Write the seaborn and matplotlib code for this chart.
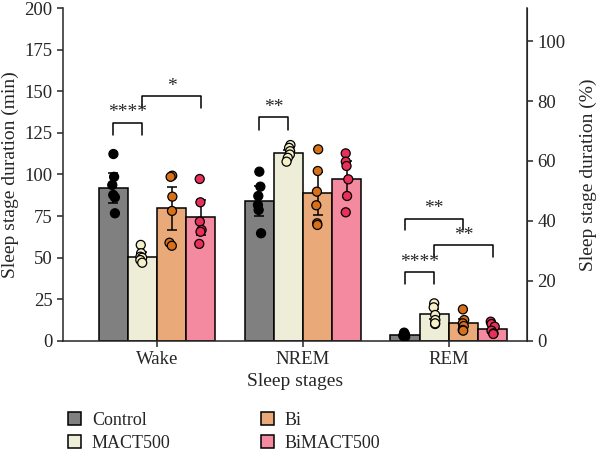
import numpy as np
import pandas as pd
import matplotlib
matplotlib.use("Agg")
import matplotlib.pyplot as plt
from matplotlib.patches import Patch
import seaborn as sns

# ====================== DATA =======================
stages = ["Wake", "NREM", "REM"]
groups = ["Control", "MACT500", "Bi", "BiMACT500"]

mean_control = [91.7, 84.0, 3.6]
mean_mact = [50.6, 112.7, 16.4]
mean_bi = [79.7, 88.7, 11.0]
mean_bimact = [74.3, 97.3, 7.0]

err_control = [9.0, 9.0, 0.6]
err_mact = [3.0, 2.0, 3.0]
err_bi = [13.0, 13.0, 2.5]
err_bimact = [10.5, 11.0, 1.5]

pts_control = [[112.3, 98.6, 93.7, 87.7, 86.3, 76.7],
               [101.7, 92.7, 87.1, 81.7, 78.7, 64.7],
               [5.0, 4.0, 3.5, 3.0, 2.5, 3.2]]
pts_mact = [[57.7, 52.7, 50.6, 50.0, 48.6, 47.0],
            [117.7, 116.0, 114.0, 112.0, 110.0, 107.7],
            [22.6, 20.2, 15.6, 12.6, 10.2, 10.6]]
pts_bi = [[99.3, 98.6, 86.7, 78.1, 59.0, 57.2],
          [115.1, 102.1, 89.7, 81.5, 70.7, 69.7],
          [19.0, 12.6, 10.6, 9.0, 6.6, 6.2]]
pts_bimact = [[97.3, 83.3, 71.7, 66.7, 65.6, 58.3],
              [112.7, 107.7, 105.1, 97.1, 87.1, 77.3],
              [11.6, 10.2, 8.6, 6.2, 4.6, 4.2]]

# significance: (stage, group a, group b, bracket height, leg bottom, label)
sig_stage = ["Wake", "Wake", "NREM", "REM", "REM", "REM"]
sig_a = ["Control", "MACT500", "Control", "Control", "MACT500", "Control"]
sig_b = ["MACT500", "BiMACT500", "MACT500", "Bi", "BiMACT500", "MACT500"]
sig_top = [131, 147, 134.3, 73.3, 57.5, 41.2]
sig_bottom = [124, 140, 127, 66.7, 50.3, 34.2]
sig_label = ["****", "*", "**", "**", "**", "****"]

bar_colors = ["#808080", "#eeeed8", "#eaa978", "#f48aa0"]
point_colors = ["#000000", "#f5f0c8", "#d8701a", "#e8305a"]

# ====================== TABLES =======================
means = [mean_control, mean_mact, mean_bi, mean_bimact]
errs = [err_control, err_mact, err_bi, err_bimact]
pts = [pts_control, pts_mact, pts_bi, pts_bimact]

bar_df = pd.DataFrame([(s, g, means[gi][si], errs[gi][si])
                       for gi, g in enumerate(groups) for si, s in enumerate(stages)],
                      columns=["stage", "group", "value", "err"])
pt_df = pd.DataFrame([(s, g, v)
                      for gi, g in enumerate(groups) for si, s in enumerate(stages)
                      for v in pts[gi][si]],
                     columns=["stage", "group", "value"])

# ====================== PLOT =======================
sns.set_style("ticks")
plt.rcParams["font.family"] = ["Liberation Serif", "DejaVu Serif"]
plt.rcParams["font.size"] = 13

fig = plt.figure(figsize=(6, 4.58), dpi=100)
ax = fig.add_axes([0.105, 0.2555, 0.773, 0.727])

sns.barplot(data=bar_df, x="stage", y="value", hue="group", order=stages,
            hue_order=groups, palette=bar_colors, saturation=1, errorbar=None,
            edgecolor="black", linewidth=1.1, width=0.8, legend=False, ax=ax)

centers = {}
bar_containers = list(ax.containers)
for gi, cont in enumerate(bar_containers):
    for si, bar in enumerate(cont):
        cx = bar.get_x() + bar.get_width() / 2
        centers[(groups[gi], stages[si])] = cx
        ax.errorbar(cx, means[gi][si], yerr=errs[gi][si], color="black",
                    lw=1.1, capsize=3.3, capthick=1.1, zorder=3)

np.random.seed(3)
sns.stripplot(data=pt_df, x="stage", y="value", hue="group", order=stages,
              hue_order=groups, palette=point_colors, dodge=True, jitter=0.06,
              size=6.5, edgecolor="black", linewidth=0.9, legend=False,
              zorder=4, ax=ax)

for st, a, b, top, bot, lab in zip(sig_stage, sig_a, sig_b, sig_top, sig_bottom, sig_label):
    xa, xb = centers[(a, st)], centers[(b, st)]
    ax.plot([xa, xa, xb, xb], [bot, top, top, bot], color="black", lw=1.1)
    ax.text((xa + xb) / 2, top + 1.0, lab, ha="center", va="bottom", fontsize=14)

ax.set_xlim(-0.644, 2.534)
ax.set_ylim(0, 200)
ax.set_yticks(range(0, 201, 25))
ax.set_xlabel("Sleep stages", fontsize=14, labelpad=3)
ax.set_ylabel("Sleep stage duration (min)", fontsize=14, labelpad=4)
ax.tick_params(labelsize=13.5, width=1.1, length=4)
for sp in ["left", "bottom"]:
    ax.spines[sp].set_linewidth(1.1)
ax.spines["top"].set_visible(False)

ax2 = ax.twinx()
ax2.set_ylim(0, 111)
ax2.set_yticks(range(0, 101, 20))
ax2.set_ylabel("Sleep stage duration (%)", fontsize=14, labelpad=10)
ax2.tick_params(labelsize=13.5, width=1.1, length=4)
ax2.spines["right"].set_linewidth(1.1)
ax2.spines["top"].set_visible(False)
ax2.spines["left"].set_visible(False)
ax2.spines["bottom"].set_visible(False)

handles = [Patch(facecolor=c, edgecolor="black", linewidth=1.1) for c in bar_colors]
fig.legend(handles, groups, ncol=2, loc="lower left", bbox_to_anchor=(0.087, -0.022),
           frameon=False, fontsize=13, handlelength=0.7, handleheight=0.7,
           columnspacing=5.0, labelspacing=0.35, handletextpad=0.6)

fig.savefig("out.png", dpi=100)
